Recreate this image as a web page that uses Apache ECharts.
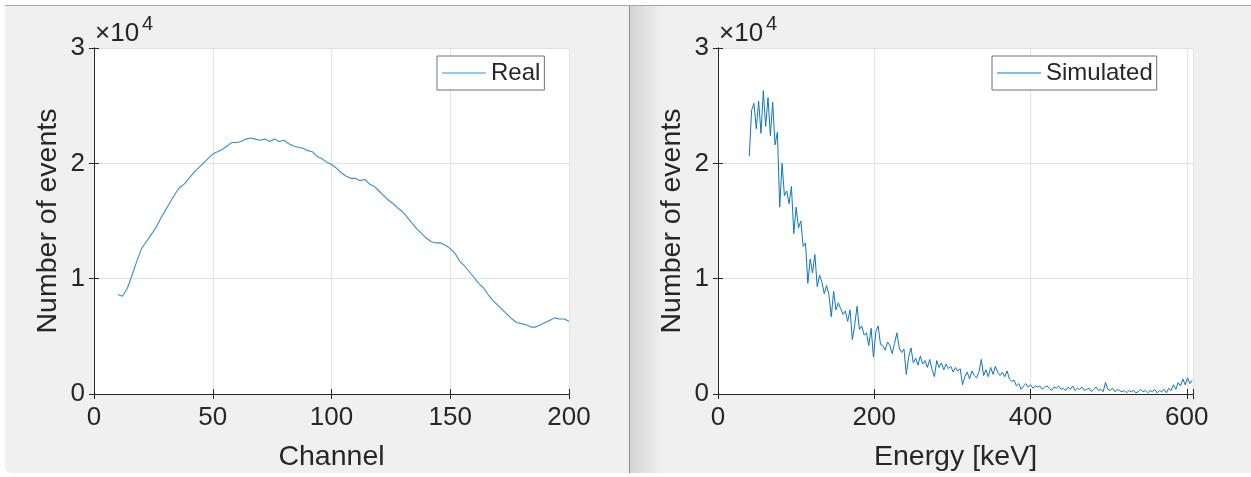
<!DOCTYPE html>
<html>
<head>
<meta charset="utf-8">
<script src="https://cdn.jsdelivr.net/npm/echarts@6/dist/echarts.min.js"></script>
<style>
html,body{margin:0;padding:0;background:#fff;}
#chart{width:1251px;height:477px;}
</style>
</head>
<body>
<div id="chart"></div>
<script>
// ---- data ----
const realChannelStart = 10;
const realChannelStep = 2;
const realCounts = [
  8620, 8480, 9150, 10300, 11500, 12600, 13200, 13800, 14400, 15200,
  15900, 16600, 17300, 17900, 18200, 18700, 19200, 19600, 20000, 20400,
  20800, 21000, 21200, 21500, 21800, 21800, 21900, 22100, 22200, 22100,
  22000, 22100, 21900, 22100, 21900, 22000, 21700, 21500, 21400, 21300,
  21100, 21000, 20600, 20400, 20100, 19900, 19600, 19200, 18900, 18700,
  18700, 18500, 18600, 18200, 18000, 17600, 17200, 16800, 16500, 16100,
  15800, 15300, 14800, 14300, 13900, 13500, 13200, 13100, 13100, 12900,
  12600, 12200, 11500, 11100, 10600, 10100, 9600, 9200, 8600, 8100,
  7700, 7300, 6900, 6500, 6200, 6100, 6000, 5800, 5800, 6000,
  6200, 6400, 6600, 6500, 6500, 6300
];
const simEnergyStart = 40;
const simEnergyStep = 3;
const simCounts = [
  20600, 24600, 25200, 23000, 25400, 22600, 26300, 23200, 25700, 22400,
  25300, 21600, 22700, 16200, 20000, 17200, 17600, 16500, 18000, 13900,
  16200, 14400, 15000, 12800, 13100, 9600, 11700, 10500, 12100, 9300,
  10300, 9700, 8700, 9400, 8600, 6700, 8900, 7300, 7900, 7400,
  6900, 7200, 6300, 7300, 4700, 6000, 7600, 5600, 5900, 5100,
  5300, 4200, 5700, 3200, 5400, 5900, 4300, 4200, 3800, 4500,
  4200, 3500, 4400, 5300, 4000, 3600, 3900, 1700, 3200, 4000,
  2700, 3100, 2500, 3300, 2600, 2900, 2300, 3000, 2100, 1500,
  2900, 2300, 2700, 2100, 2600, 2200, 2400, 1900, 2300, 2000,
  2200, 800, 1500, 1900, 1300, 2000, 1600, 1400, 1900, 3000,
  1600, 2100, 1500, 2300, 1700, 2400, 1900, 1600, 1900, 1500,
  2000, 1300, 1100, 1200, 700, 900, 400, 700, 900, 600,
  800, 500, 700, 600, 700, 400, 600, 700, 500, 300,
  600, 500, 700, 400, 500, 300, 600, 400, 700, 300,
  500, 400, 600, 300, 400, 500, 200, 400, 600, 300,
  400, 200, 1000, 400, 300, 500, 200, 400, 300, 200,
  300, 100, 300, 200, 300, 100, 200, 400, 200, 300,
  100, 300, 200, 400, 100, 300, 200, 400, 100, 500,
  300, 800, 400, 1000, 700, 1300, 800, 1400, 900, 1200
];
const leftXTicks = [0, 50, 100, 150, 200];
const rightXTicks = [0, 200, 400, 600];
const yTicks = [0, 1, 2, 3];

// ---- build ----
const realData = realCounts.map((v, i) => [realChannelStart + i * realChannelStep, v]);
const simData = simCounts.map((v, i) => [simEnergyStart + i * simEnergyStep, v]);

const FONT = '"Liberation Sans", Arial, Helvetica, sans-serif';
const TXT = '#262626';
const GRIDC = '#e2e2e2';
const TICK_FS = 26, LABEL_FS = 28.5, LEG_FS = 24;
const REAL_C = '#3a8dd0', SIM_C = '#0f76c0';

function xAxisMain(gi, max, interval, name, ticks) {
  return {
    type: 'value', gridIndex: gi, min: 0, max: max, interval: interval,
    name: name, nameLocation: 'middle', nameGap: 49,
    nameTextStyle: {fontFamily: FONT, fontSize: LABEL_FS, color: TXT},
    axisLine: {show: true, lineStyle: {color: TXT, width: 1}},
    axisTick: {show: true, inside: true, length: 5, lineStyle: {color: TXT}},
    axisLabel: {show: true, margin: 11, fontFamily: FONT, fontSize: TICK_FS, color: TXT,
      formatter: v => ticks.indexOf(v) >= 0 ? String(v) : ''},
    splitLine: {show: true, lineStyle: {color: GRIDC, width: 1}}
  };
}
function xAxisTop(gi, max, interval) {
  return {
    type: 'value', gridIndex: gi, position: 'top', min: 0, max: max, interval: interval,
    axisLine: {show: true, lineStyle: {color: TXT, width: 1}},
    axisTick: {show: true, inside: true, length: 5, lineStyle: {color: TXT}},
    axisLabel: {show: false}, splitLine: {show: false}
  };
}
function yAxisMain(gi) {
  return {
    type: 'value', gridIndex: gi, min: 0, max: 30000, interval: 10000,
    name: 'Number of events', nameLocation: 'middle', nameGap: 31,
    nameTextStyle: {fontFamily: FONT, fontSize: LABEL_FS, color: TXT},
    axisLine: {show: true, lineStyle: {color: TXT, width: 1}},
    axisTick: {show: true, inside: true, length: 5, lineStyle: {color: TXT}},
    axisLabel: {show: true, margin: 9, fontFamily: FONT, fontSize: TICK_FS, color: TXT,
      formatter: v => { const t = v / 10000; return yTicks.indexOf(t) >= 0 ? String(t) : ''; }},
    splitLine: {show: true, lineStyle: {color: GRIDC, width: 1}}
  };
}
function yAxisRight(gi) {
  return {
    type: 'value', gridIndex: gi, position: 'right', min: 0, max: 30000, interval: 10000,
    axisLine: {show: true, lineStyle: {color: TXT, width: 1}},
    axisTick: {show: true, inside: true, length: 5, lineStyle: {color: TXT}},
    axisLabel: {show: false}, splitLine: {show: false}
  };
}
function legendFor(name, left) {
  return {
    data: [{name: name, icon: 'rect'}], left: left, top: 56, orient: 'vertical',
    itemWidth: 44, itemHeight: 1.2,
    padding: [3, 4, 3, 5], borderColor: '#707070', borderWidth: 1, backgroundColor: '#ffffff',
    textStyle: {fontFamily: FONT, fontSize: LEG_FS, color: TXT, lineHeight: 28}
  };
}

const option = {
  animation: false,
  backgroundColor: '#ffffff',
  graphic: [
    {type: 'rect', z: -10, shape: {x: 5, y: 5, width: 1246, height: 468, r: [0, 0, 0, 6]},
     style: {fill: '#f0f0f0'}},
    {type: 'line', z: -9, shape: {x1: 5, y1: 5.5, x2: 1251, y2: 5.5}, style: {stroke: '#a8a8a8', lineWidth: 1}},
    {type: 'rect', z: -9, shape: {x: 630, y: 6, width: 32, height: 467},
     style: {fill: new echarts.graphic.LinearGradient(0, 0, 1, 0, [
       {offset: 0, color: '#d4d4d4'}, {offset: 1, color: '#f0f0f0'}])}},
    {type: 'line', z: -8, shape: {x1: 629.5, y1: 6, x2: 629.5, y2: 473}, style: {stroke: '#8c8c8c', lineWidth: 1}},
    {type: 'text', x: 95, y: 34, style: {text: '\u00d710', font: TICK_FS + 'px ' + FONT, fill: TXT, verticalAlign: 'middle', align: 'left'}},
    {type: 'text', x: 142, y: 24, style: {text: '4', font: '20px ' + FONT, fill: TXT, verticalAlign: 'middle', align: 'left'}},
    {type: 'text', x: 719, y: 34, style: {text: '\u00d710', font: TICK_FS + 'px ' + FONT, fill: TXT, verticalAlign: 'middle', align: 'left'}},
    {type: 'text', x: 766, y: 24, style: {text: '4', font: '20px ' + FONT, fill: TXT, verticalAlign: 'middle', align: 'left'}}
  ],
  grid: [
    {left: 94, top: 48, width: 475, height: 346, show: true, backgroundColor: '#ffffff', borderWidth: 0},
    {left: 718, top: 48, width: 475, height: 346, show: true, backgroundColor: '#ffffff', borderWidth: 0}
  ],
  xAxis: [
    xAxisMain(0, 200, 50, 'Channel', leftXTicks),
    xAxisMain(1, 608, 200, 'Energy [keV]', rightXTicks),
    xAxisTop(0, 200, 50),
    xAxisTop(1, 608, 200)
  ],
  yAxis: [
    yAxisMain(0), yAxisMain(1), yAxisRight(0), yAxisRight(1)
  ],
  legend: [legendFor('Real', 437), legendFor('Simulated', 992)],
  series: [
    {name: 'Real', type: 'line', xAxisIndex: 0, yAxisIndex: 0, data: realData, symbol: 'none',
     lineStyle: {color: REAL_C, width: 1.1}, itemStyle: {color: REAL_C}},
    {name: 'Simulated', type: 'line', xAxisIndex: 1, yAxisIndex: 1, data: simData, symbol: 'none',
     lineStyle: {color: SIM_C, width: 1}, itemStyle: {color: SIM_C}}
  ]
};

const chart = echarts.init(document.getElementById('chart'), null, {renderer: 'canvas'});
chart.setOption(option);
</script>
</body>
</html>
